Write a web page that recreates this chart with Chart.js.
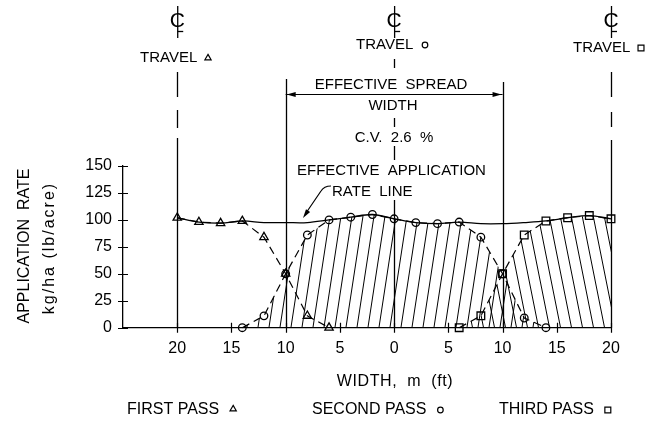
<!DOCTYPE html>
<html><head><meta charset="utf-8">
<script src="https://cdn.jsdelivr.net/npm/chart.js@4.4.1/dist/chart.umd.min.js"></script>
<style>html,body{margin:0;padding:0;background:#fff}canvas{display:block}</style>
</head><body>
<canvas id="c" width="657" height="425"></canvas>
<script>
// ---- data ----
const effX = [-20,-18,-16,-14,-12,-10,-8,-6,-4,-2,0,2,4,6,8,10,12,14,16,18,20];
const effectiveRate = [102,98,97,99,97.5,97.5,97.5,100,102.5,105,101,97.5,96.5,98,96.5,96.5,97.5,99,102,104,101];
const firstX = [-20,-18,-16,-14,-12,-10,-8,-6];
const firstPass = [102,98,97,99,84,50,11,0];
const secondX = [-14,-12,-10,-8,-6,-4,-2,0,2,4,6,8,10,12,14];
const secondPass = [0,11,50,86,100,102.5,105,101,97.5,96.5,98,84,50,9,0];
const thirdX = [6,8,10,12,14,16,18,20];
const thirdPass = [0,11,50,86,99,102,104,101];
const xTickValues = [-20,-15,-10,-5,0,5,10,15,20];
const xTickLabels = ['20','15','10','5','0','5','10','15','20'];
const yTickValues = [0,25,50,75,100,125,150];

const FONT = '"Liberation Sans", Arial, sans-serif';
const pts = (xs, ys) => xs.map((x, i) => ({x, y: ys[i]}));

function hatch(slope, dir) {
  const w = 11, h = Math.round(11 * slope);
  const c = document.createElement('canvas'); c.width = w; c.height = h;
  const g = c.getContext('2d'); g.strokeStyle = '#000'; g.lineWidth = 1;
  g.beginPath();
  for (let k = -1; k <= 1; k++) {
    if (dir > 0) { g.moveTo(k * w, h); g.lineTo(k * w + w, 0); }
    else { g.moveTo(k * w, 0); g.lineTo(k * w + w, h); }
  }
  g.stroke();
  return g.createPattern(c, 'repeat');
}

const annot = {
  id: 'annot',
  afterDraw(chart) {
    const ctx = chart.ctx, xs = chart.scales.x, ys = chart.scales.y;
    const X = v => xs.getPixelForValue(v), Y = v => ys.getPixelForValue(v);
    const bottom = chart.chartArea.bottom, left = chart.chartArea.left;
    ctx.save();
    ctx.strokeStyle = '#000'; ctx.fillStyle = '#000'; ctx.lineWidth = 1.2;
    // crossing tick marks
    ctx.beginPath();
    xTickValues.forEach(v => { const p = Math.round(X(v)) + 0.5; ctx.moveTo(p, bottom - 5); ctx.lineTo(p, bottom + 5); });
    yTickValues.forEach(v => { const p = Math.round(Y(v)) + 0.5; ctx.moveTo(left - 5, p); ctx.lineTo(left + 5, p); });
    ctx.stroke();
    // vertical lines
    const vseg = (u, segs) => { const p = Math.round(X(u)) + 0.5; ctx.beginPath(); segs.forEach(s => { ctx.moveTo(p, s[0]); ctx.lineTo(p, s[1] === 'b' ? bottom : s[1]); }); ctx.stroke(); };
    ctx.lineWidth = 1.3;
    vseg(-20, [[72,97],[110,128],[138,'b']]);
    vseg(0, [[59,68],[118,127],[146,160],[200,'b']]);
    vseg(20, [[72,97],[112,127],[140,'b']]);
    vseg(-10, [[79,'b']]);
    vseg(10, [[82,'b']]);
    // centre-line symbols
    [-20, 0, 20].forEach(u => {
      const p = X(u);
      ctx.beginPath(); ctx.moveTo(p + 0.5, 6); ctx.lineTo(p + 0.5, 38); ctx.stroke();
      ctx.font = '21px ' + FONT; ctx.textAlign = 'center'; ctx.textBaseline = 'middle';
      ctx.fillText('C', p, 21);
      ctx.beginPath(); ctx.moveTo(p + 0.5, 31.5); ctx.lineTo(p + 6, 31.5); ctx.stroke();
    });
    // spread arrow
    const ay = 94.5, a1 = X(-10), a2 = X(10);
    ctx.lineWidth = 1.2;
    ctx.beginPath(); ctx.moveTo(a1, ay); ctx.lineTo(a2, ay); ctx.stroke();
    ctx.beginPath(); ctx.moveTo(a1 + 1, ay); ctx.lineTo(a1 + 10, ay - 2.5); ctx.lineTo(a1 + 10, ay + 2.5); ctx.closePath(); ctx.fill();
    ctx.beginPath(); ctx.moveTo(a2 - 1, ay); ctx.lineTo(a2 - 10, ay - 2.5); ctx.lineTo(a2 - 10, ay + 2.5); ctx.closePath(); ctx.fill();
    // texts
    ctx.font = '15px ' + FONT; ctx.textBaseline = 'middle';
    const txt = (s, x, y, al) => { ctx.textAlign = al || 'left'; ctx.fillText(s, x, y); return ctx.measureText(s).width; };
    txt('TRAVEL', 140, 58); txt('TRAVEL', 356, 45); txt('TRAVEL', 573, 48);
    txt('EFFECTIVE  SPREAD', 391, 85, 'center');
    txt('WIDTH', 393, 106, 'center');
    txt('C.V.  2.6  %', 394, 138, 'center');
    txt('EFFECTIVE  APPLICATION', 297, 171);
    txt('RATE  LINE', 332, 192);
    ctx.font = '16px ' + FONT;
    ctx.letterSpacing = '0.6px';
    txt('WIDTH,  m  (ft)', 395, 382, 'center');
    ctx.letterSpacing = '0px';
    const w1 = txt('FIRST PASS', 127, 410), w2 = txt('SECOND PASS', 312, 410), w3 = txt('THIRD PASS', 499, 410);
    // y title
    ctx.save(); ctx.translate(25, 246); ctx.rotate(-Math.PI / 2); txt('APPLICATION  RATE', 0, 0, 'center'); ctx.restore();
    ctx.letterSpacing = '2px';
    ctx.save(); ctx.translate(50, 248); ctx.rotate(-Math.PI / 2); txt('kg/ha (lb/acre)', 0, 0, 'center'); ctx.restore();
    ctx.letterSpacing = '0px';
    // markers next to labels (hollow)
    ctx.fillStyle = '#fff'; ctx.strokeStyle = '#000';
    const mk = (style, x, y, r) => Chart.helpers.drawPoint(ctx, {pointStyle: style, radius: r, borderWidth: 1.2, rotation: 0}, x, y);
    ctx.lineWidth = 1.2;
    mk('triangle', 208, 58, 3.6); mk('circle', 425, 45, 2.8); mk('rect', 641, 48, 4.2);
    mk('triangle', 127 + w1 + 14, 409, 3.6); mk('circle', 312 + w2 + 14, 410, 2.8); mk('rect', 499 + w3 + 14, 410, 4.2);
    ctx.fillStyle = '#000';
    // leader for rate line
    ctx.lineWidth = 1.2;
    ctx.beginPath(); ctx.moveTo(331, 186); ctx.quadraticCurveTo(324, 186, 321, 191); ctx.lineTo(306, 213); ctx.stroke();
    ctx.save(); ctx.translate(303, 218); ctx.rotate(Math.atan2(22, -15));
    ctx.beginPath(); ctx.moveTo(0, 0); ctx.lineTo(-9, -2.5); ctx.lineTo(-9, 2.5); ctx.closePath(); ctx.fill(); ctx.restore();
    ctx.restore();
  }
};

new Chart(document.getElementById('c'), {
  type: 'line',
  data: {
    datasets: [
      {data: pts(effX, effectiveRate), borderColor: '#000', borderWidth: 1.3, pointRadius: 0, tension: 0.35, fill: false, clip: false},
      {data: pts(firstX, firstPass), borderColor: '#000', borderWidth: 1.2, borderDash: [8, 5], pointStyle: 'triangle', pointRadius: 4.8, pointBorderWidth: 1.3, pointBackgroundColor: 'rgba(0,0,0,0)', pointBorderColor: '#000', tension: 0, fill: false, clip: false},
      {data: pts(secondX, secondPass), borderColor: '#000', borderWidth: 1.2, borderDash: [8, 5], pointStyle: 'circle', pointRadius: 3.8, pointBorderWidth: 1.3, pointBackgroundColor: 'rgba(0,0,0,0)', pointBorderColor: '#000', tension: 0, fill: 'origin', backgroundColor: hatch(6.5, 1), clip: false},
      {data: pts(thirdX, thirdPass), borderColor: '#000', borderWidth: 1.2, borderDash: [8, 5], pointStyle: 'rect', pointRadius: 5.4, pointBorderWidth: 1.3, pointBackgroundColor: 'rgba(0,0,0,0)', pointBorderColor: '#000', tension: 0, fill: 'origin', backgroundColor: hatch(5, -1), clip: false}
    ]
  },
  options: {
    responsive: false, animation: false, devicePixelRatio: 1,
    layout: {padding: {top: 166, right: 46, left: 0, bottom: 0}},
    plugins: {legend: {display: false}, tooltip: {enabled: false}},
    scales: {
      x: {
        type: 'linear', min: -25, max: 20,
        afterFit: s => { s.height = 97.3; },
        afterBuildTicks: s => { s.ticks = xTickValues.map(v => ({value: v})); },
        ticks: {callback: (v) => xTickLabels[xTickValues.indexOf(v)], color: '#000', font: {family: FONT, size: 16}, padding: 11, maxRotation: 0, autoSkip: false},
        grid: {display: false, drawTicks: false},
        border: {display: true, color: '#000', width: 1.3}
      },
      y: {
        min: 0, max: 150,
        afterFit: s => { s.width = 123; },
        afterBuildTicks: s => { s.ticks = yTickValues.map(v => ({value: v})); },
        ticks: {color: '#000', font: {family: FONT, size: 16}, padding: 11},
        grid: {display: false, drawTicks: false},
        border: {display: true, color: '#000', width: 1.3}
      }
    }
  },
  plugins: [annot]
});
</script>
</body></html>
